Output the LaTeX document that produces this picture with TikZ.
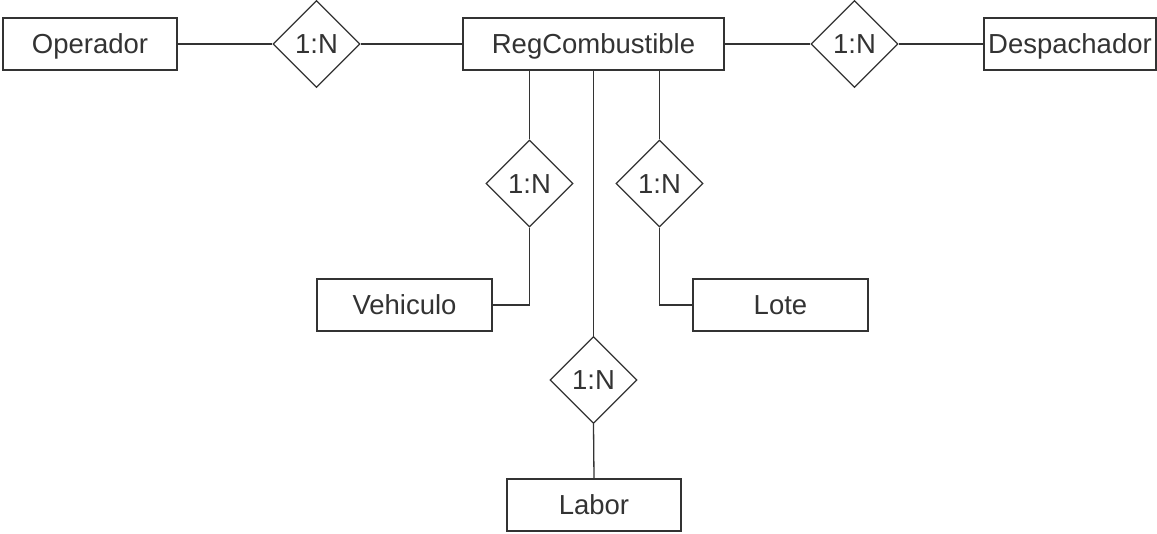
\documentclass[tikz,border=0pt]{standalone}
\usepackage{fontspec}
\setmainfont{Liberation Sans}
\usetikzlibrary{shapes.geometric}
\definecolor{ink}{HTML}{333333}
\definecolor{txt}{HTML}{333333}
\tikzset{
  label text/.style={font=\fontsize{27.5}{31}\selectfont, text=txt,
    text height=19.5pt, text depth=0pt},
  entity/.style={draw=ink, line width=1.3pt, fill=white, rectangle,
    minimum width=174pt, minimum height=52pt, inner sep=0pt, label text},
  rel/.style={draw=ink, line width=1.3pt, fill=white, diamond, aspect=1,
    minimum width=87pt, minimum height=87pt, inner sep=0pt, label text},
  link/.style={draw=ink, line width=1.3pt}
}
\begin{document}
\begin{tikzpicture}[x=1pt, y=-1pt]
\useasboundingbox (0,0) rectangle (1157,533);

% entities
\node[entity] (op) at (90,44) {Operador};
\node[entity, minimum width=261pt] (reg) at (593.5,44) {RegCombustible};
\node[entity, minimum width=172pt] (desp) at (1070,44) {Despachador};
\node[entity, minimum width=175pt] (veh) at (404.5,305) {Vehiculo};
\node[entity, minimum width=175pt] (lote) at (780.5,305) {Lote};
\node[entity] (labor) at (594,505) {Labor};

% relationships
\node[rel] (r1) at (316.5,44) {1:N};
\node[rel] (r2) at (854.5,44) {1:N};
\node[rel] (r3) at (529.5,183.5) {1:N};
\node[rel] (r4) at (659.5,183.5) {1:N};
\node[rel] (r5) at (593.5,380) {1:N};

% connectors
\draw[link] (op.east) -- (r1.west);
\draw[link] (r1.east) -- (reg.west);
\draw[link] (reg.east) -- (r2.west);
\draw[link] (r2.east) -- (desp.west);
\draw[link] (reg.south -| r3.north) -- (r3.north);
\draw[link] (r3.south) |- (veh.east);
\draw[link] (reg.south -| r4.north) -- (r4.north);
\draw[link] (r4.south) |- (lote.west);
\draw[link] (reg.south) -- (r5.north);
\draw[link] (r5.south) -- (labor.north);
\end{tikzpicture}
\end{document}
